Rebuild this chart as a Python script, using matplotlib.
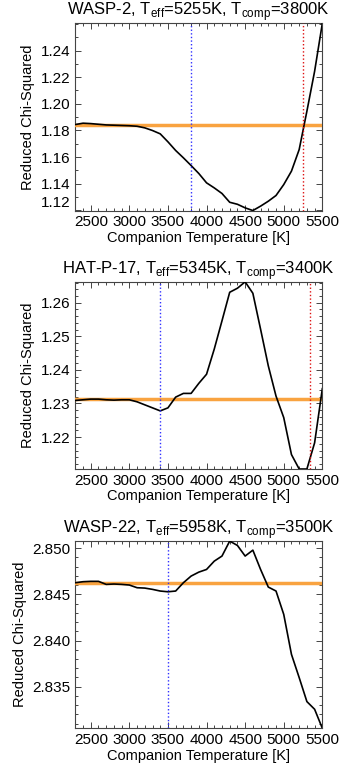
import numpy as np
import matplotlib.pyplot as plt
from matplotlib.ticker import MultipleLocator

plt.rcParams['font.family'] = ['Liberation Sans', 'DejaVu Sans']
plt.rcParams['mathtext.fontset'] = 'custom'
plt.rcParams['mathtext.rm'] = 'Liberation Sans'

# companion temperature grid [K]
temps = [2300, 2400, 2500, 2600, 2700, 2800, 2900, 3000, 3100, 3200, 3300,
         3400, 3500, 3600, 3700, 3800, 3900, 4000, 4100, 4200, 4300, 4400,
         4500, 4600, 4700, 4800, 4900, 5000, 5100, 5200, 5300, 5400, 5500]

# reduced chi-squared per target
chi_wasp2 = [1.1844, 1.1854, 1.1851, 1.1846, 1.1841, 1.1839, 1.1837, 1.1835,
             1.1831, 1.1819, 1.1799, 1.1774, 1.1714, 1.1649, 1.1594, 1.1536,
             1.1476, 1.1406, 1.1368, 1.1326, 1.1260, 1.1245, 1.1218, 1.1198,
             1.1231, 1.1268, 1.1311, 1.1393, 1.1494, 1.1656, 1.1944, 1.2244,
             1.2604]
chi_hatp17 = [1.2309, 1.2311, 1.2313, 1.2313, 1.2311, 1.2310, 1.2311, 1.2311,
              1.2305, 1.2296, 1.2287, 1.2278, 1.2287, 1.2319, 1.2330, 1.2330,
              1.2360, 1.2387, 1.2462, 1.2546, 1.2631, 1.2643, 1.2662, 1.2628,
              1.2521, 1.2412, 1.2322, 1.2258, 1.2148, 1.2105, 1.2105, 1.2183,
              1.2344]
chi_wasp22 = [2.84626, 2.84637, 2.84641, 2.84641, 2.84608, 2.84612, 2.84608,
              2.84601, 2.84572, 2.84568, 2.84554, 2.84536, 2.84528, 2.84536,
              2.84626, 2.84698, 2.84741, 2.84770, 2.84860, 2.84915, 2.85077,
              2.85030, 2.84915, 2.84979, 2.84770, 2.84579, 2.84536, 2.84283,
              2.83850, 2.83598, 2.83338, 2.83255, 2.83049]

names = ['WASP-2', 'HAT-P-17', 'WASP-22']
teff = [5255, 5345, 5958]
tcomp = [3800, 3400, 3500]
chi_ref = [1.1838, 1.2314, 2.84626]

yticks = [[1.12, 1.14, 1.16, 1.18, 1.20, 1.22, 1.24],
          [1.22, 1.23, 1.24, 1.25, 1.26],
          [2.835, 2.840, 2.845, 2.850]]
yminor = [0.01, 0.002, 0.001]
yfmt = ['%.2f', '%.2f', '%.3f']


def createPlot(ax, chi, i):
    ax.plot(temps, chi, color='black', lw=1.2, zorder=4)
    ax.axhline(chi_ref[i], color='#f9a340', lw=2.5, zorder=3)
    ax.axvline(tcomp[i], color='#3030ff', lw=1.0, ls=(0, (1, 1.6)), zorder=5)
    ax.axvline(teff[i], color='#dd1010', lw=1.0, ls=(0, (1, 1.6)), zorder=5)

    ax.set_xlim(2300, 5500)
    ax.set_ylim(min(chi), max(chi))
    ax.set_xticks([2500, 3000, 3500, 4000, 4500, 5000, 5500])
    ax.xaxis.set_minor_locator(MultipleLocator(100))
    ax.set_yticks(yticks[i])
    labels = ax.set_yticklabels([yfmt[i] % v for v in yticks[i]])
    if i == 0:
        labels[0].set_verticalalignment('bottom')
    ax.yaxis.set_minor_locator(MultipleLocator(yminor[i]))

    ax.tick_params(which='both', direction='in', top=True, right=True,
                   labelsize=11, color='#444444', width=0.7)
    ax.tick_params(which='major', length=4.5, pad=3.5)
    ax.tick_params(which='minor', length=2.5)
    for s in ax.spines.values():
        s.set_linewidth(0.8)
        s.set_color('#444444')

    ax.set_xlabel('Companion Temperature [K]', fontsize=10.5, labelpad=1)
    ax.set_ylabel('Reduced Chi-Squared', fontsize=10.5, labelpad=4)
    ax.set_title(r'%s, T$_{\rm eff}$=%dK, T$_{\rm comp}$=%dK'
                 % (names[i], teff[i], tcomp[i]), fontsize=12, pad=4)


if __name__ == '__main__':
    fig = plt.figure(figsize=(3.45, 7.76), dpi=100)
    bottoms = [0.7287, 0.3956, 0.0615]
    for i, chi in enumerate([chi_wasp2, chi_hatp17, chi_wasp22]):
        ax = fig.add_axes([0.2183, bottoms[i], 0.716, 0.2412])
        createPlot(ax, chi, i)

    plt.savefig('out.png', dpi=100)
